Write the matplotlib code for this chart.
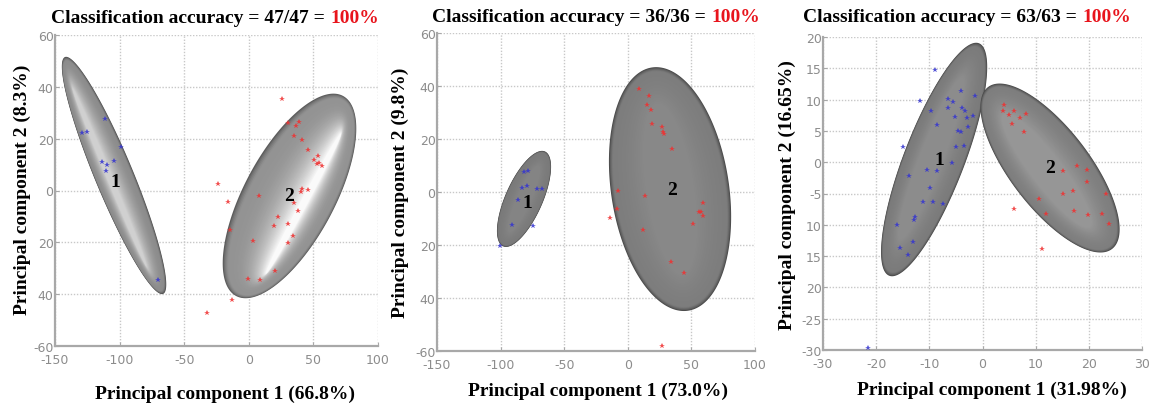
import numpy as np
import matplotlib
matplotlib.use("Agg")
import matplotlib.pyplot as plt
from matplotlib.patches import Polygon
from matplotlib.colors import to_rgb

# ---------------- data ----------------
# Panel 1
p1_blue_x = [-111.3, -129.3, -125.0, -99.1, -113.9, -110.0, -104.1, -110.5, -70.5]
p1_blue_y = [27.6, 22.1, 22.7, 16.7, 10.9, 9.8, 11.5, 7.5, -34.4]
p1_red_x = [25.9, -24.1, -15.9, -14.6, -13.2, -32.6, 30.6, 39.1, 36.5, 35.0, 40.9, 46.0,
            50.5, 53.3, 54.3, 56.4, 52.6, 41.4, 46.0, 40.4, 8.1, 35.2, 37.9, 22.8, 19.7,
            30.6, 34.4, 30.6, 3.5, 20.5, 8.7, -0.8]
p1_red_y = [35.3, 2.5, -4.5, -15.2, -42.2, -47.3, 25.9, 26.4, 24.8, 21.0, 19.6, 15.6,
            11.8, 13.4, 10.6, 9.6, 10.2, 0.6, 0.2, -0.5, -2.0, -4.7, -8.0, -10.2, -13.6,
            -12.8, -17.4, -20.2, -19.4, -30.9, -34.6, -34.1]
# Panel 2
p2_blue_x = [-81.6, -78.2, -83.4, -79.0, -71.1, -67.7, -86.1, -91.3, -74.8, -100.5]
p2_blue_y = [7.4, 8.0, 1.4, 2.4, 1.1, 1.1, -3.0, -12.5, -12.9, -20.5]
p2_red_x = [8.8, 16.7, 14.9, 18.2, 19.3, 26.7, 27.9, 28.7, 34.5, -7.5, 13.5, -8.7, -14.0,
            59.4, 57.5, 59.4, 56.0, 51.0, 11.7, 34.0, 44.2, 26.7]
p2_red_y = [38.9, 36.3, 32.8, 30.9, 25.7, 24.6, 22.5, 21.9, 16.2, 0.5, -1.4, -6.4, -9.9,
            -4.2, -7.4, -8.9, -7.7, -12.2, -14.3, -26.5, -30.7, -58.0]
# Panel 3
p3_blue_x = [-8.9, -11.8, -4.1, -1.4, -6.4, -5.5, -6.4, -3.9, -3.3, -3.0, -1.8, -5.2, -9.6,
             -8.5, -2.7, -4.7, -4.1, -14.9, -5.0, -3.5, -5.8, -10.4, -8.6, -13.8, -9.9,
             -11.1, -9.3, -7.4, -12.7, -12.9, -16.0, -13.0, -15.6, -14.0, -21.6]
p3_blue_y = [14.8, 9.8, 11.3, 10.5, 10.1, 9.6, 8.7, 8.7, 8.2, 7.1, 7.4, 7.2, 8.2,
             6.0, 5.7, 5.0, 4.8, 2.5, 2.5, 2.6, -0.2, -1.2, -1.4, -2.2, -4.2,
             -6.4, -6.4, -6.7, -8.8, -9.2, -10.0, -12.7, -13.7, -14.8, -29.7]
p3_red_x = [4.0, 3.9, 6.0, 5.0, 8.2, 7.0, 5.5, 7.8, 17.8, 19.7, 15.1, 19.6, 17.1, 15.1,
            23.2, 10.7, 5.9, 11.9, 17.2, 19.9, 22.4, 23.8, 11.1]
p3_red_y = [9.2, 8.2, 8.2, 7.5, 7.7, 7.0, 6.1, 4.8, -0.6, -1.2, -1.4, -3.1, -4.6, -5.0,
            -5.1, -5.9, -7.5, -8.2, -7.8, -8.4, -8.2, -9.9, -13.9]

# ellipses: centre, tip of major semi-axis, minor/major ratio (in screen space)
p1_ell_centers = [(-104.3, 5.8), (31.5, -2.1)]
p1_ell_tips = [(-142.3, 51.5), (72.9, 36.5)]
p1_ell_ratios = [0.15, 0.40]
p2_ell_centers = [(-81.6, -2.6), (33.2, 1.1)]
p2_ell_tips = [(-65.1, 15.3), (19.0, 47.0)]
p2_ell_ratios = [0.36, 0.48]
p3_ell_centers = [(-9.1, 0.43), (12.7, -0.93)]
p3_ell_tips = [(-0.66, 19.0), (1.03, 12.0)]
p3_ell_ratios = [0.244, 0.39]

# cluster labels
p1_lab_pos = [(-103.6, 3.3), (31.1, -2.1)]
p2_lab_pos = [(-79.2, -3.8), (34.7, 1.1)]
p3_lab_pos = [(-8.2, 0.5), (12.7, -0.8)]
cluster_labels = ["1", "2"]

# ticks
p12_xticks = [-150, -100, -50, 0, 50, 100]
p12_xticklabels = ["-150", "-100", "-50", "0", "50", "100"]
p12_yticks = [-60, -40, -20, 0, 20, 40, 60]
p12_yticklabels = ["-60", "40", "20", "0", "20", "40", "60"]
p3_xticks = [-30, -20, -10, 0, 10, 20, 30]
p3_xticklabels = ["-30", "-20", "-10", "0", "10", "20", "30"]
p3_yticks = [-30, -25, -20, -15, -10, -5, 0, 5, 10, 15, 20]
p3_yticklabels = ["-30", "-25", "20", "15", "10", "-5", "0", "5", "10", "15", "20"]

titles_black = ["Classification accuracy = 47/47 = ",
                "Classification accuracy = 36/36 = ",
                "Classification accuracy = 63/63 = "]
title_red = "100%"
xlabels = ["Principal component 1 (66.8%)", "Principal component 1 (73.0%)",
           "Principal component 1 (31.98%)"]
ylabels = ["Principal component 2 (8.3%)", "Principal component 2 (9.8%)",
           "Principal component 2 (16.65%)"]

# ---------------- layout ----------------
W, H = 1156, 406
fig = plt.figure(figsize=(W / 100, H / 100), dpi=100)
SERIF = "Liberation Serif"
FS = 14


def rect(l, t, r, b):
    return [l / W, 1 - b / H, (r - l) / W, (b - t) / H]


axes_px = [(55, 36, 378, 347), (437, 34, 755, 352), (823, 38, 1142, 351)]
title_split_px = [330, 711, 1082]
title_base_px = [23, 22, 22]
xlabel_px = [(225, 399), (598, 396), (992, 395)]
ylabel_px = [(22, 190), (400, 193), (787, 195)]

# shading styles (dark rim, mid, light core, gamma, offset, shrink major, shrink minor)
styles = [
    [dict(dark="#505050", mid="#8c8c8c", light="#d0d0d0", g=1.8, off=0.25, sa=0.25, sb=0.85),
     dict(dark="#5c5c5c", mid="#939393", light="#fafafa", g=2.6, off=-0.35, sa=0.30, sb=0.92)],
    [dict(dark="#4a4a4a", mid="#7a7a7a", light="#848484", g=1.6, off=0.0, sa=0.3, sb=0.6),
     dict(dark="#4a4a4a", mid="#7d7d7d", light="#888888", g=1.6, off=0.0, sa=0.3, sb=0.6)],
    [dict(dark="#4a4a4a", mid="#7b7b7b", light="#8c8c8c", g=1.6, off=0.1, sa=0.3, sb=0.6),
     dict(dark="#4a4a4a", mid="#7e7e7e", light="#969696", g=1.6, off=0.1, sa=0.3, sb=0.6)],
]


def draw_ellipse(ax, center, tip, ratio, st, n_layers=45):
    x0, x1 = ax.get_xlim()
    y0, y1 = ax.get_ylim()
    sx = ax.bbox.width / (x1 - x0)
    sy = ax.bbox.height / (y1 - y0)
    c = np.array(center, float)
    u = np.array(tip, float) - c
    up = np.array([u[0] * sx, u[1] * sy])
    vp = np.array([-up[1], up[0]]) * ratio
    v = np.array([vp[0] / sx, vp[1] / sy])
    th = np.linspace(0, 2 * np.pi, 240)
    d, m, l = (np.array(to_rgb(st[k])) for k in ("dark", "mid", "light"))
    for i in range(n_layers):
        t = i / (n_layers - 1)
        if t < 0.1:
            col = d + (m - d) * (t / 0.1) ** 0.7
        else:
            col = m + (l - m) * ((t - 0.1) / 0.9) ** st["g"]
        cc = c + st["off"] * t * v
        pts = (cc + np.outer(np.cos(th), u * (1 - st["sa"] * t))
               + np.outer(np.sin(th), v * (1 - st["sb"] * t)))
        ax.add_patch(Polygon(pts, closed=True, fc=col, ec="none", zorder=2,
                             antialiased=True))


panels = [
    dict(bx=p1_blue_x, by=p1_blue_y, rx=p1_red_x, ry=p1_red_y, cen=p1_ell_centers,
         tips=p1_ell_tips, rat=p1_ell_ratios, lab=p1_lab_pos, xlim=(-150, 100), ylim=(-60, 60),
         xt=p12_xticks, xtl=p12_xticklabels, yt=p12_yticks, ytl=p12_yticklabels),
    dict(bx=p2_blue_x, by=p2_blue_y, rx=p2_red_x, ry=p2_red_y, cen=p2_ell_centers,
         tips=p2_ell_tips, rat=p2_ell_ratios, lab=p2_lab_pos, xlim=(-150, 100), ylim=(-60, 60),
         xt=p12_xticks, xtl=p12_xticklabels, yt=p12_yticks, ytl=p12_yticklabels),
    dict(bx=p3_blue_x, by=p3_blue_y, rx=p3_red_x, ry=p3_red_y, cen=p3_ell_centers,
         tips=p3_ell_tips, rat=p3_ell_ratios, lab=p3_lab_pos, xlim=(-30, 30), ylim=(-30, 20),
         xt=p3_xticks, xtl=p3_xticklabels, yt=p3_yticks, ytl=p3_yticklabels),
]

for k, p in enumerate(panels):
    ax = fig.add_axes(rect(*axes_px[k]))
    ax.set_xlim(*p["xlim"])
    ax.set_ylim(*p["ylim"])
    ax.set_xticks(p["xt"])
    ax.set_xticklabels(p["xtl"])
    ax.set_yticks(p["yt"])
    ax.set_yticklabels(p["ytl"])
    ax.set_axisbelow(True)
    ax.grid(True, ls=(0, (1, 1.2)), color="#c8c8c8", lw=1.0)
    for s in ("top", "right"):
        ax.spines[s].set_visible(False)
    for s in ("left", "bottom"):
        ax.spines[s].set_color("#a8a8a8")
        ax.spines[s].set_linewidth(1.6)
    ax.tick_params(labelsize=9, labelcolor="#8c8c8c", color="#a8a8a8", length=3,
                   direction="in")
    ax.tick_params(axis="x", pad=5)
    ax.tick_params(axis="y", pad=1)

    for j in range(2):
        draw_ellipse(ax, p["cen"][j], p["tips"][j], p["rat"][j], styles[k][j])

    ax.plot(p["bx"], p["by"], "*", ms=4, color="#3535d0", mew=0, alpha=0.85, zorder=4)
    ax.plot(p["rx"], p["ry"], "*", ms=4, color="#f03030", mew=0, alpha=0.85, zorder=4)
    ax.set_zorder(1)

    for j in range(2):
        ax.text(p["lab"][j][0], p["lab"][j][1], cluster_labels[j], ha="center", va="center",
                fontsize=FS, fontweight="bold", family=SERIF, color="black", zorder=5)

    # titles
    fig.text(title_split_px[k] / W, 1 - title_base_px[k] / H, titles_black[k],
             ha="right", va="baseline", fontsize=FS, fontweight="bold", family=SERIF,
             color="black")
    fig.text(title_split_px[k] / W, 1 - title_base_px[k] / H, title_red,
             ha="left", va="baseline", fontsize=FS, fontweight="bold", family=SERIF,
             color="#e8141c")
    # axis labels
    fig.text(xlabel_px[k][0] / W, 1 - xlabel_px[k][1] / H, xlabels[k], ha="center",
             va="baseline", fontsize=FS, fontweight="bold", family=SERIF)
    fig.text(ylabel_px[k][0] / W, 1 - ylabel_px[k][1] / H, ylabels[k], ha="center",
             va="center", rotation=90, fontsize=FS, fontweight="bold", family=SERIF)

fig.savefig("out.png", dpi=100)
